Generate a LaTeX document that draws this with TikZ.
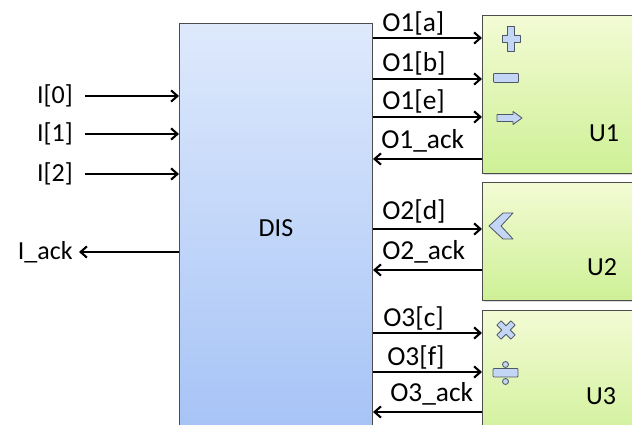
\documentclass[tikz,border=0pt]{standalone}
\usepackage{fontspec}
\setmainfont{Carlito}
\usetikzlibrary{arrows.meta,positioning,shadows}

\definecolor{disTop}{RGB}{222,233,252}
\definecolor{disBot}{RGB}{164,194,246}
\definecolor{unitTop}{RGB}{243,251,212}
\definecolor{unitBot}{RGB}{206,240,150}
\definecolor{iconFill}{RGB}{196,214,245}
\definecolor{iconLine}{RGB}{80,88,104}

\tikzset{
  block/.style={draw=black!70, line width=0.7pt, anchor=north west, inner sep=0pt},
  disblock/.style={block, top color=disTop, bottom color=disBot,
    minimum width=4.825cm, minimum height=10.6cm},
  unitblock/.style={block, top color=unitTop, bottom color=unitBot, minimum width=4.6cm,
    drop shadow={shadow xshift=1.2pt, shadow yshift=-1.2pt, opacity=0.3}},
  sig/.style={line width=1.5pt, -{Straight Barb[length=4.5pt,width=8pt]}},
  lbl/.style={inner sep=0pt, anchor=base west, font=\fontsize{19.5}{22}\selectfont},
  inlbl/.style={inner xsep=0.3cm, inner ysep=0pt, anchor=east},
  icon/.style={draw=iconLine, fill=iconFill, line width=0.6pt, line join=round},
}

\begin{document}
\begin{tikzpicture}[x=0.025cm, y=-0.025cm, font=\fontsize{18.5}{21}\selectfont]
  \useasboundingbox (0,0) rectangle (632,425);
  \clip (0,0) rectangle (632,425);
  % Blocks
  \node[disblock] (dis) at (179,23) {};
  \node[unitblock, minimum height=3.95cm] (u1) at (482,15) {};
  \node[unitblock, minimum height=2.95cm] (u2) at (482,182) {};
  \node[unitblock, minimum height=3.5cm] (u3) at (482,310) {};
  \node (distxt) at (276,228) {DIS};
  \node (u1txt) at (604,133) {U1};
  \node (u2txt) at (602,267) {U2};
  \node (u3txt) at (601,396) {U3};
  % Inputs
  \node[inlbl] (i0) at (85,96) {I[0]};
  \node[inlbl] (i1) at (85,134) {I[1]};
  \node[inlbl] (i2) at (85,174) {I[2]};
  \foreach \n in {i0,i1,i2}
    \draw[sig] (\n.east) -- (\n.east -| dis.west);
  \node[inlbl, inner xsep=0.15cm] (iack) at (79,252) {I\_ack};
  \draw[sig] (dis.west |- iack.east) -- (iack.east);
  % Outputs to the units
  \foreach \y/\b/\u/\x/\txt in {38/32/u1/382/O1[a], 79/72/u1/382/O1[b], 117/110/u1/382/O1[e],
      229/220/u2/382/O2[d], 333/327/u3/383/O3[c], 372/366/u3/387/O3[f]} {
    \draw[sig] (dis.east |- 0,\y) -- (\u.west |- 0,\y);
    \node[lbl] (o\y) at (\x,\b) {\txt};
  }
  % Acknowledges
  \foreach \y/\u/\x/\n in {159/u1/381/O1, 270/u2/382/O2, 412/u3/390/O3} {
    \draw[sig] (\u.west |- 0,\y) -- (dis.east |- 0,\y);
    \node[lbl] (a\y) at (\x,\y-10) {\n\_ack};
  }
  % Icons
  \draw[icon] (507.5,26.5) -- (514.5,26.5) -- (514.5,35) -- (520,35) -- (520,42) -- (514.5,42)
    -- (514.5,51.5) -- (507.5,51.5) -- (507.5,42) -- (502,42) -- (502,35) -- (507.5,35) -- cycle; % plus
  \draw[icon, rounded corners=0.6pt] (493.5,73.5) rectangle (518.5,82.5); % minus
  \draw[icon] (497,114.5) -- (513,114.5) -- (513,111.5) -- (522,118) -- (513,124.5)
    -- (513,121.5) -- (497,121.5) -- cycle; % arrow
  \draw[icon] (489,226) -- (503,213) -- (513,213) -- (501,226) -- (513,239) -- (503,239) -- cycle; % chevron
  \begin{scope}[shift={(506,330)}, rotate=45]
    \draw[icon] (-3,-10) -- (3,-10) -- (3,-3) -- (10,-3) -- (10,3) -- (3,3) -- (3,10)
      -- (-3,10) -- (-3,3) -- (-10,3) -- (-10,-3) -- (-3,-3) -- cycle; % times
  \end{scope}
  \draw[icon, rounded corners=0.6pt] (493,368.5) rectangle (518,377); % divide
  \draw[icon] (505.5,364.5) circle (3);
  \draw[icon] (505.5,381.5) circle (3);
\end{tikzpicture}
\end{document}
